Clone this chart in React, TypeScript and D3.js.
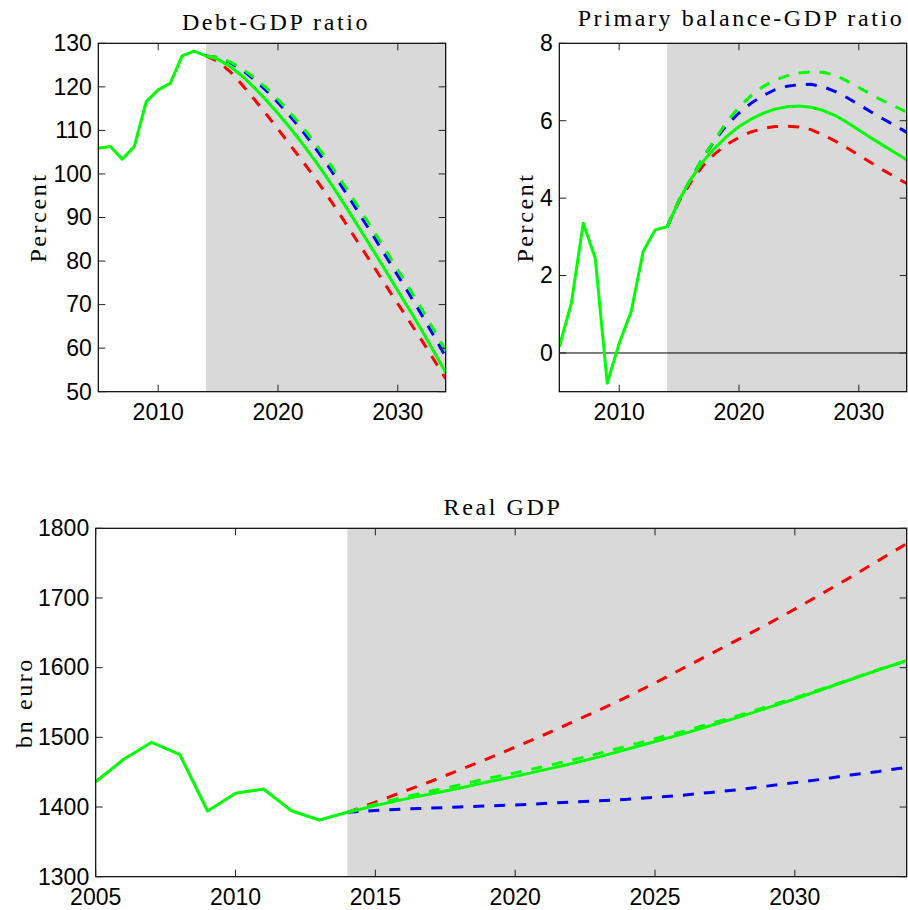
import React from 'react';
import * as d3 from 'd3';

// Years: history up to 2014, projections from 2014 on (shaded area)
const histYears = [2005, 2006, 2007, 2008, 2009, 2010, 2011, 2012, 2013, 2014];
const projYears = [2014, 2015, 2016, 2017, 2018, 2019, 2020, 2021, 2022, 2023, 2024,
  2025, 2026, 2027, 2028, 2029, 2030, 2031, 2032, 2033, 2034];
const shadeStart = 2014;

// Debt-GDP ratio (percent)
const debtHist = [105.9, 106.3, 103.4, 106.3, 116.6, 119.3, 120.8, 127.1, 128.2, 127.1];
const debtBase = [127.1, 126.3, 124.7, 122.5, 119.9, 117.0, 113.9, 110.6, 107.1, 103.4, 99.5,
  95.3, 91.0, 86.6, 82.2, 77.7, 73.2, 68.7, 64.1, 59.3, 54.4];
const debtRed = [127.1, 125.8, 123.5, 120.5, 117.2, 113.8, 110.3, 106.7, 103.1, 99.4, 95.5,
  91.4, 87.2, 82.9, 78.7, 74.4, 70.2, 66.0, 61.8, 57.4, 53.0];
const debtBlue = [127.1, 126.7, 125.6, 123.9, 121.7, 119.2, 116.4, 113.3, 110.0, 106.4, 102.6,
  98.5, 94.3, 89.9, 85.6, 81.1, 76.7, 72.2, 67.6, 62.9, 58.0];
const debtGreenDash = [127.1, 126.75, 125.75, 124.2, 122.15, 119.8, 117.1, 114.1, 110.9, 107.4, 103.65,
  99.6, 95.45, 91.1, 86.85, 82.4, 78.0, 73.55, 68.95, 64.3, 59.4];

// Primary balance-GDP ratio (percent)
const pbHist = [0.16, 1.28, 3.35, 2.45, -0.78, 0.25, 1.07, 2.62, 3.18, 3.26];
const pbBase = [3.26, 3.95, 4.5, 4.95, 5.3, 5.6, 5.85, 6.04, 6.19, 6.3, 6.36,
  6.38, 6.35, 6.27, 6.14, 5.96, 5.76, 5.56, 5.37, 5.18, 4.99];
const pbRed = [3.26, 3.92, 4.42, 4.84, 5.15, 5.39, 5.57, 5.71, 5.8, 5.85, 5.86,
  5.84, 5.77, 5.64, 5.48, 5.3, 5.11, 4.92, 4.73, 4.55, 4.38];
const pbBlue = [3.26, 3.95, 4.5, 5.05, 5.5, 5.9, 6.2, 6.45, 6.65, 6.8, 6.89,
  6.93, 6.94, 6.88, 6.76, 6.6, 6.42, 6.23, 6.05, 5.88, 5.7];
const pbGreenDash = [3.26, 3.95, 4.5, 5.05, 5.52, 5.98, 6.35, 6.65, 6.88, 7.05, 7.16,
  7.23, 7.26, 7.25, 7.18, 7.03, 6.86, 6.68, 6.52, 6.37, 6.22];

// Real GDP (bn euro)
const gdpHist = [1436.3, 1468.5, 1492.9, 1475.6, 1394.3, 1419.7, 1425.9, 1394.7, 1381.4, 1392.4];
const gdpBase = [1392.4, 1402, 1411, 1419, 1427, 1436, 1444, 1453, 1462, 1472, 1483,
  1494, 1505, 1517, 1529, 1542, 1555, 1569, 1583, 1597, 1610];
const gdpRed = [1392.4, 1407, 1422, 1437, 1453, 1469, 1486, 1503, 1521, 1539, 1558,
  1578, 1599, 1620, 1641, 1662, 1684, 1707, 1730, 1754, 1778];
const gdpBlue = [1392.4, 1395, 1397, 1398.5, 1400, 1401.5, 1403, 1405, 1407, 1409, 1411,
  1414, 1417, 1421, 1425, 1430, 1435, 1440, 1446, 1451, 1457];
const gdpGreenDash = [1392.4, 1404, 1414, 1423, 1431.5, 1441, 1449, 1458, 1467, 1477, 1487.5,
  1498, 1508.5, 1520, 1531.5, 1544, 1556.5, 1570, 1583.5, 1597.3, 1610];

// Tick values
const debtYTicks = [50, 60, 70, 80, 90, 100, 110, 120, 130];
const pbYTicks = [0, 2, 4, 6, 8];
const gdpYTicks = [1300, 1400, 1500, 1600, 1700, 1800];
const decadeTicks = [2010, 2020, 2030];
const fiveYearTicks = [2005, 2010, 2015, 2020, 2025, 2030];

const TICK_FONT = '"Liberation Sans", Arial, Helvetica, sans-serif';
const LABEL_FONT = '"Liberation Serif", "Times New Roman", serif';
const SHADE = '#d9d9d9';
const DASH = '11 10';

const Panel = ({ id, left, right, top, bottom, yDomain, yTicks, xTicks, hist, proj,
  title, titleX, titleY, ylabel, ylabelX, zeroLine }) => {
  const x = d3.scaleLinear().domain([2005, 2034]).range([left, right]);
  const y = d3.scaleLinear().domain(yDomain).range([bottom, top]);
  const line = d3.line().x(d => x(d[0])).y(d => y(d[1]));
  const tickLen = 7;

  const histPts = histYears.map((yr, i) => [yr, hist[i]]);

  return (
    <g>
      <defs>
        <clipPath id={id}>
          <rect x={left} y={top} width={right - left} height={bottom - top} />
        </clipPath>
      </defs>

      {/* projection shading */}
      <rect x={x(shadeStart)} y={top} width={right - x(shadeStart)} height={bottom - top} fill={SHADE} />

      {zeroLine && (
        <line x1={left} x2={right} y1={y(0)} y2={y(0)} stroke="#000" strokeWidth={1} />
      )}

      <g clipPath={`url(#${id})`} fill="none" strokeWidth={3}>
        {proj.map((s, i) => (
          <path key={i}
            d={line(projYears.map((yr, j) => [yr, s.values[j]]))}
            stroke={s.color}
            strokeDasharray={s.dashed ? DASH : undefined}
            strokeLinejoin="round" />
        ))}
        <path d={line(histPts)} stroke="#00ff00" strokeLinejoin="round" />
      </g>

      {/* box + inward ticks on all sides */}
      <rect x={left} y={top} width={right - left} height={bottom - top} fill="none" stroke="#000" strokeWidth={1.2} />
      <g stroke="#222" strokeWidth={1}>
        {xTicks.map(t => (
          <g key={t}>
            <line x1={x(t)} x2={x(t)} y1={bottom} y2={bottom - tickLen} />
            <line x1={x(t)} x2={x(t)} y1={top} y2={top + tickLen} />
          </g>
        ))}
        {yTicks.map(t => (
          <g key={t}>
            <line x1={left} x2={left + tickLen} y1={y(t)} y2={y(t)} />
            <line x1={right} x2={right - tickLen} y1={y(t)} y2={y(t)} />
          </g>
        ))}
      </g>

      <g fontFamily={TICK_FONT} fontSize={23} fill="#000">
        {xTicks.map(t => (
          <text key={t} x={x(t)} y={bottom + 28} textAnchor="middle">{t}</text>
        ))}
        {yTicks.map(t => (
          <text key={t} x={left - 6.5} y={y(t)} dy="0.34em" textAnchor="end">{t}</text>
        ))}
      </g>

      <g fontFamily={LABEL_FONT} fontSize={24} letterSpacing={2.6} fill="#000">
        <text x={titleX} y={titleY} textAnchor="middle">{title}</text>
        <text transform={`translate(${ylabelX},${(top + bottom) / 2}) rotate(-90)`} textAnchor="middle">{ylabel}</text>
      </g>
    </g>
  );
};

const series = (red, blue, greenDash, base) => [
  { values: red, color: '#ff0000', dashed: true },
  { values: blue, color: '#0000ff', dashed: true },
  { values: greenDash, color: '#00ff00', dashed: true },
  { values: base, color: '#00ff00', dashed: false },
];

export default function App() {
  return (
    <svg width={908} height={910} style={{ position: 'absolute', left: 0, top: 0, background: '#fff' }}>
      <rect width={908} height={910} fill="#fff" />
      <Panel id="clip-debt" left={98.3} right={445.7} top={43.3} bottom={391.7}
        yDomain={[50, 130]} yTicks={debtYTicks} xTicks={decadeTicks}
        hist={debtHist} proj={series(debtRed, debtBlue, debtGreenDash, debtBase)}
        title="Debt-GDP ratio" titleX={276} titleY={30}
        ylabel="Percent" ylabelX={46} />
      <Panel id="clip-pb" left={559.3} right={906.7} top={43.3} bottom={391.7}
        yDomain={[-1, 8]} yTicks={pbYTicks} xTicks={decadeTicks}
        hist={pbHist} proj={series(pbRed, pbBlue, pbGreenDash, pbBase)}
        title="Primary balance-GDP ratio" titleX={741} titleY={26}
        ylabel="Percent" ylabelX={533} zeroLine />
      <Panel id="clip-gdp" left={95.7} right={906.7} top={528.3} bottom={876.7}
        yDomain={[1300, 1800]} yTicks={gdpYTicks} xTicks={fiveYearTicks}
        hist={gdpHist} proj={series(gdpRed, gdpBlue, gdpGreenDash, gdpBase)}
        title="Real GDP" titleX={503} titleY={515}
        ylabel="bn euro" ylabelX={31.5} />
    </svg>
  );
}
